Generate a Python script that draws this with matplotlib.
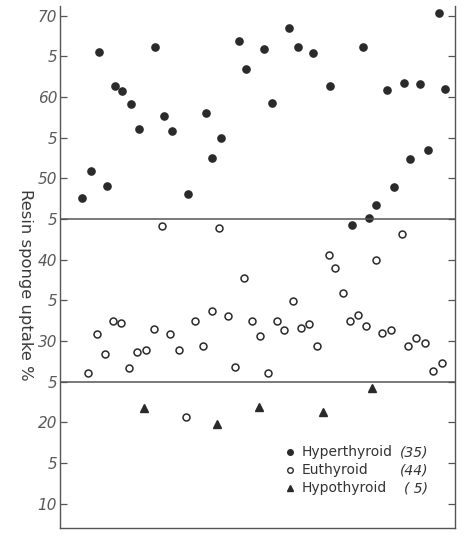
import matplotlib
matplotlib.use("Agg")
import matplotlib.pyplot as plt

# case position along the (unlabelled) horizontal axis, 0-100
hyper_x = [5.6, 7.8, 9.9, 11.9, 13.9, 15.7, 18.0, 20.0, 24.1, 26.3, 28.4, 32.4,
           37.0, 38.5, 40.8, 45.3, 47.1, 51.6, 53.7, 58.0, 60.3, 64.1, 68.4,
           73.9, 76.7, 78.2, 80.0, 82.8, 84.6, 87.1, 88.6, 91.1, 93.2, 95.9, 97.5]
hyper_y = [47.6, 50.9, 65.5, 49.1, 61.4, 60.7, 59.2, 56.1, 66.1, 57.7, 55.8, 48.1,
           58.0, 52.5, 55.0, 66.9, 63.4, 65.9, 59.3, 68.5, 66.1, 65.4, 61.3,
           44.3, 66.1, 45.1, 46.7, 60.9, 49.0, 61.7, 52.4, 61.6, 53.5, 70.3, 61.0]

eu_x = [7.1, 9.4, 11.4, 13.4, 15.4, 17.5, 19.5, 21.8, 23.8, 25.8, 27.8, 30.1,
        31.9, 34.2, 36.2, 38.5, 40.3, 42.5, 44.3, 46.6, 48.6, 50.6, 52.7, 54.9,
        56.7, 59.0, 61.0, 63.0, 65.0, 68.1, 69.6, 71.6, 73.4, 75.4, 77.5, 80.0,
        81.5, 83.8, 86.6, 88.1, 90.1, 92.4, 94.4, 96.7]
eu_y = [26.1, 30.9, 28.4, 32.4, 32.2, 26.7, 28.7, 28.9, 31.5, 44.2, 30.8, 28.9,
        20.7, 32.5, 29.4, 33.7, 43.9, 33.1, 26.8, 37.8, 32.5, 30.6, 26.1, 32.5,
        31.3, 34.9, 31.6, 32.1, 29.4, 40.6, 39.0, 35.9, 32.5, 33.2, 31.9, 40.0,
        31.0, 31.3, 43.1, 29.4, 30.4, 29.7, 26.3, 27.3]

hypo_x = [21.3, 39.7, 50.4, 66.6, 79.0]
hypo_y = [21.8, 19.8, 21.9, 21.3, 24.2]

ytick_vals = [70, 65, 60, 55, 50, 45, 40, 35, 30, 25, 20, 15, 10]
ytick_labels = ['70', '5', '60', '5', '50', '5', '40', '5', '30', '5', '20', '5', '10']
limits = [45, 25]

legend_names = ['Hyperthyroid', 'Euthyroid', 'Hypothyroid']
legend_counts = ['(35)', '(44)', '( 5)']

ink = '#2a2a2a'
grey = '#555555'

fig = plt.figure(figsize=(4.66, 5.36), dpi=100)
ax = fig.add_axes([60/466, 8/536, 395/466, 522/536])

ax.plot(hyper_x, hyper_y, 'o', color=ink, ms=5.2, mec=ink)
ax.plot(eu_x, eu_y, 'o', mfc='white', mec=ink, ms=5, mew=1.1)
ax.plot(hypo_x, hypo_y, '^', color=ink, ms=5.2)

for v in limits:
    ax.axhline(v, color=grey, lw=1.1)

ax.set_xlim(0, 100)
ax.set_ylim(7.0, 71.2)
ax.set_xticks([])
ax.set_yticks(ytick_vals)
ax.set_yticklabels(ytick_labels, fontstyle='italic', fontsize=11, color='#5a5a5a')
ax.tick_params(axis='y', direction='in', length=5, width=0.9, color=grey,
               right=True, pad=2)
ax.spines['top'].set_visible(False)
for s in ['left', 'right', 'bottom']:
    ax.spines[s].set_color(grey)
    ax.spines[s].set_linewidth(1.0)

fig.text(25/466, 1 - 285/536, 'Resin sponge uptake %', rotation=270,
         ha='center', va='center', fontsize=11.8, color='#3a3a3a')

# hand-made key
markers = [dict(marker='o', color=ink, ms=4),
           dict(marker='o', mfc='white', mec=ink, ms=4, mew=1),
           dict(marker='^', color=ink, ms=5)]
key_y = [452, 470, 488]
for name, cnt, mk, py in zip(legend_names, legend_counts, markers, key_y):
    yy = 1 - py/536
    fig.lines.append(plt.Line2D([290/466], [yy], linestyle='none',
                                transform=fig.transFigure, **mk))
    fig.text(302/466, yy, name, ha='left', va='center', fontsize=10, color='#333333')
    fig.text(428/466, yy, cnt, ha='right', va='center', fontsize=10,
             fontstyle='italic', color='#333333')

fig.savefig('out.png', dpi=100)
